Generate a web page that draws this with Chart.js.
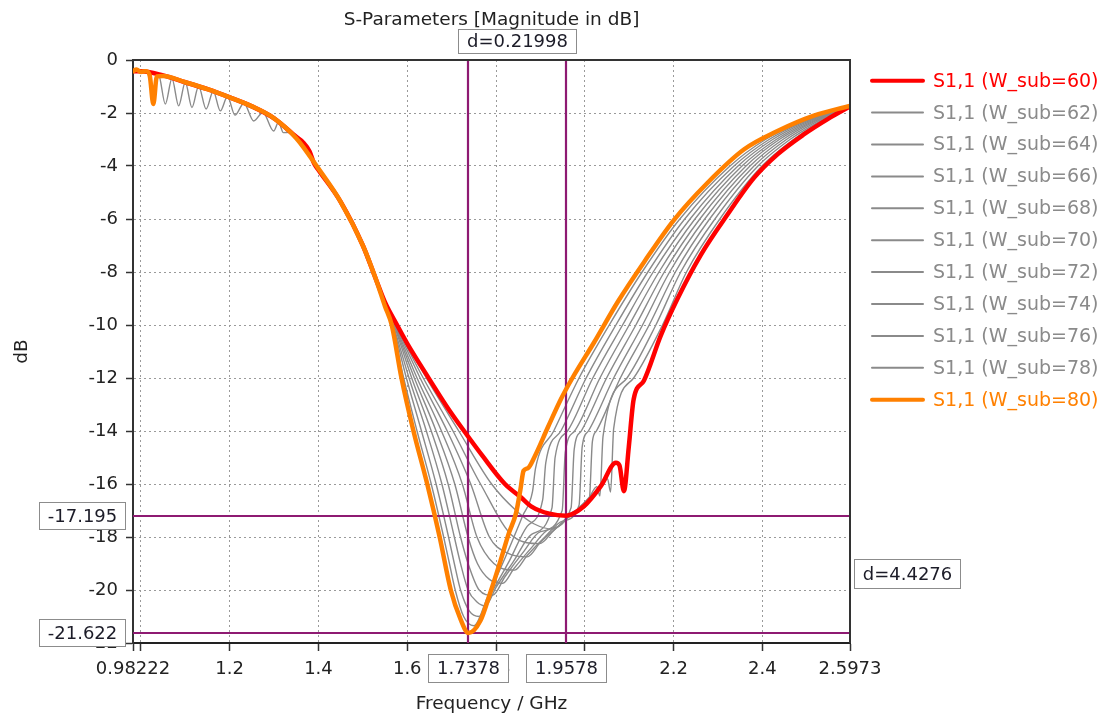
<!DOCTYPE html>
<html>
<head>
<meta charset="utf-8">
<script src="https://cdn.jsdelivr.net/npm/chart.js@4.4.1/dist/chart.umd.min.js"></script>
<style>
  html, body { margin: 0; padding: 0; background: #ffffff; }
  #wrap { width: 1106px; height: 717px; position: relative; }
</style>
</head>
<body>
<div id="wrap"><canvas id="c" width="1106" height="717"></canvas></div>
<script>
// ---------------- DATA ----------------
const titleText = 'S-Parameters [Magnitude in dB]';
const xAxisTitle = 'Frequency / GHz';
const yAxisTitle = 'dB';

const xTickValues = [0.98222, 1.0, 1.2, 1.4, 1.6, 1.8, 2.0, 2.2, 2.4, 2.5973];
const xTickLabels = ['0.98222', '', '1.2', '1.4', '1.6', '1.8', '2.0', '2.2', '2.4', '2.5973'];
const yTickValues = [0, -2, -4, -6, -8, -10, -12, -14, -16, -18, -20, -22];
const yTickLabels = ['0', '-2', '-4', '-6', '-8', '-10', '-12', '-14', '-16', '-18', '-20', '-22'];

const seriesLabels = ['S1,1 (W_sub=60)', 'S1,1 (W_sub=62)', 'S1,1 (W_sub=64)', 'S1,1 (W_sub=66)',
  'S1,1 (W_sub=68)', 'S1,1 (W_sub=70)', 'S1,1 (W_sub=72)', 'S1,1 (W_sub=74)',
  'S1,1 (W_sub=76)', 'S1,1 (W_sub=78)', 'S1,1 (W_sub=80)'];

// markers
const markerFreqs = [1.7378, 1.9578];
const markerFreqLabels = ['1.7378', '1.9578'];
const markerDBs = [-17.195, -21.622];
const markerDBLabels = ['-17.195', '-21.622'];
const deltaFreqLabel = 'd=0.21998';
const deltaDBLabel = 'd=4.4276';

// W_sub = 60 (red)
const redFreq = [0.98222, 1.0, 1.05, 1.1, 1.15, 1.2, 1.25, 1.3, 1.35, 1.365, 1.38, 1.39, 1.4, 1.45, 1.5, 1.53, 1.55,
  1.577, 1.6, 1.65, 1.69, 1.728, 1.77, 1.82, 1.856, 1.88, 1.92, 1.9578, 1.998, 2.036, 2.07, 2.078, 2.088,
  2.099, 2.11, 2.133, 2.171, 2.209, 2.261, 2.321, 2.381, 2.434, 2.494, 2.547, 2.5973];
const redDB = [-0.42, -0.42, -0.58, -0.84, -1.1, -1.41, -1.75, -2.2, -2.9, -3.1, -3.45, -3.9, -4.15, -5.35, -7.0, -8.3, -9.15,
  -10.0, -10.7, -12.05, -13.1, -14.0, -14.95, -16.0, -16.5, -16.85, -17.12, -17.195, -16.84, -16.08, -15.2, -15.3, -16.27,
  -14.6, -12.8, -12.1, -10.4, -9.0, -7.36, -5.84, -4.45, -3.56, -2.8, -2.23, -1.75];

// W_sub = 80 (orange)
const orangeFreq = [0.98222, 0.99, 1.0, 1.012, 1.02, 1.028, 1.036, 1.05, 1.1, 1.15, 1.2, 1.25, 1.3, 1.35, 1.4, 1.45,
  1.5, 1.53, 1.55, 1.565, 1.587, 1.614, 1.645, 1.673, 1.698, 1.72, 1.7378, 1.765, 1.787, 1.81, 1.828, 1.845,
  1.855, 1.862, 1.872, 1.886, 1.917, 1.946, 1.972, 2.021, 2.074, 2.134, 2.201, 2.276, 2.359, 2.434, 2.516, 2.5973];
const orangeDB = [-0.42, -0.36, -0.45, -0.42, -0.6, -1.66, -0.62, -0.6, -0.84, -1.1, -1.41, -1.75, -2.2, -2.95, -4.1, -5.35,
  -7.0, -8.3, -9.3, -10.0, -12.0, -14.0, -16.0, -18.0, -20.0, -21.1, -21.622, -21.15, -20.1, -18.9, -17.9, -17.1,
  -16.2, -15.5, -15.4, -15.0, -13.85, -12.8, -12.0, -10.65, -9.13, -7.61, -6.03, -4.64, -3.37, -2.68, -2.1, -1.73];

// shared upper part of the grey curves (they overlap there)
const topFreq = [0.98222, 1.0, 1.05, 1.1, 1.15, 1.2, 1.25, 1.3, 1.35, 1.4, 1.45, 1.5, 1.53];
const topDB = [-0.42, -0.42, -0.58, -0.84, -1.1, -1.41, -1.75, -2.2, -2.95, -4.1, -5.35, -7.0, -8.3];

// grey curve with the ripples at low frequency
const rippleFreq = [0.98222, 1.0, 1.04, 1.055, 1.07, 1.085, 1.1, 1.115, 1.13, 1.147, 1.163, 1.179, 1.195, 1.212,
  1.232, 1.254, 1.275, 1.299, 1.31, 1.321, 1.335, 1.35, 1.4, 1.45, 1.5, 1.53];
const rippleDB = [-0.42, -0.42, -0.55, -1.66, -0.7, -1.73, -0.84, -1.79, -0.99, -1.85, -1.18, -1.92, -1.38, -2.08,
  -1.63, -2.3, -1.98, -2.68, -2.35, -2.74, -2.73, -2.95, -4.1, -5.35, -7.0, -8.3];

// lower parts of the grey curves
const w62Freq = [1.55, 1.576, 1.643, 1.716, 1.79, 1.845, 1.885, 1.928, 1.96, 2.0, 2.04, 2.051, 2.058, 2.065, 2.11, 2.175, 2.229, 2.304, 2.399, 2.47, 2.525, 2.5973];
const w62DB = [-9.15, -10, -12, -14, -16, -17, -17.5, -17.7, -17.3, -16.7, -16.0, -15.8, -16.3, -13.9, -12, -10, -8, -6, -4, -3, -2.4, -1.75];
const w64Freq = [1.55, 1.574, 1.636, 1.703, 1.765, 1.84, 1.898, 1.93, 1.97, 2.01, 2.027, 2.034, 2.041, 2.095, 2.16, 2.216, 2.293, 2.39, 2.462, 2.52, 2.5973];
const w64DB = [-9.2, -10, -12, -14, -16, -18, -18.25, -17.75, -17.15, -16.5, -16.1, -16.45, -14.2, -12, -10, -8, -6, -4, -3, -2.4, -1.75];
const w66Freq = [1.55, 1.573, 1.629, 1.69, 1.743, 1.785, 1.825, 1.87, 1.90, 1.94, 1.98, 2.01, 2.017, 2.026, 2.08, 2.145, 2.204, 2.281, 2.381, 2.454, 2.514, 2.5973];
const w66DB = [-9.2, -10, -12, -14, -16, -18, -18.6, -18.75, -18.2, -17.6, -17.0, -16.6, -14.4, -14, -12, -10, -8, -6, -4, -3, -2.4, -1.75];
const w68Freq = [1.55, 1.572, 1.622, 1.677, 1.724, 1.757, 1.795, 1.842, 1.87, 1.91, 1.95, 1.987, 1.994, 2.008, 2.065, 2.13, 2.191, 2.27, 2.372, 2.446, 2.508, 2.5973];
const w68DB = [-9.2, -10, -12, -14, -16, -18, -19, -19.25, -18.7, -18.0, -17.4, -16.8, -14.6, -14, -12, -10, -8, -6, -4, -3, -2.4, -1.75];
const w70Freq = [1.55, 1.571, 1.616, 1.665, 1.707, 1.737, 1.758, 1.785, 1.815, 1.84, 1.88, 1.92, 1.969, 1.976, 1.992, 2.049, 2.115, 2.179, 2.259, 2.363, 2.438, 2.503, 2.5973];
const w70DB = [-9.2, -10, -12, -14, -16, -18, -19, -19.6, -19.75, -19.2, -18.4, -17.7, -16.9, -14.7, -14, -12, -10, -8, -6, -4, -3, -2.4, -1.75];
const w72Freq = [1.55, 1.57, 1.61, 1.654, 1.692, 1.72, 1.737, 1.762, 1.792, 1.82, 1.86, 1.90, 1.949, 1.956, 1.977, 2.034, 2.1, 2.167, 2.248, 2.354, 2.431, 2.497, 2.5973];
const w72DB = [-9.2, -10, -12, -14, -16, -18, -19, -20, -20.2, -19.5, -18.6, -17.8, -17.0, -14.8, -14, -12, -10, -8, -6, -4, -3, -2.4, -1.75];
const w74Freq = [1.55, 1.568, 1.604, 1.643, 1.678, 1.706, 1.72, 1.737, 1.757, 1.776, 1.80, 1.84, 1.88, 1.926, 1.933, 1.961, 2.018, 2.085, 2.154, 2.237, 2.345, 2.423, 2.491, 2.5973];
const w74DB = [-9.2, -10, -12, -14, -16, -18, -19, -20, -20.45, -20.6, -19.9, -18.9, -17.9, -16.9, -15.0, -14, -12, -10, -8, -6, -4, -3, -2.4, -1.75];
const w76Freq = [1.55, 1.567, 1.598, 1.632, 1.665, 1.693, 1.706, 1.72, 1.74, 1.762, 1.79, 1.83, 1.87, 1.905, 1.912, 1.946, 2.003, 2.07, 2.142, 2.225, 2.336, 2.415, 2.485, 2.5973];
const w76DB = [-9.25, -10, -12, -14, -16, -18, -19, -20, -20.8, -21.0, -20.1, -18.9, -17.6, -16.6, -15.2, -14, -12, -10, -8, -6, -4, -3, -2.4, -1.75];
const w78Freq = [1.55, 1.566, 1.592, 1.622, 1.654, 1.682, 1.695, 1.708, 1.727, 1.75, 1.78, 1.82, 1.86, 1.882, 1.889, 1.93, 1.987, 2.055, 2.129, 2.214, 2.327, 2.407, 2.48, 2.5973];
const w78DB = [-9.25, -10, -12, -14, -16, -18, -19, -20, -21, -21.35, -20.3, -18.8, -17.2, -16.3, -15.4, -14, -12, -10, -8, -6, -4, -3, -2.4, -1.75];

// ---------------- STYLE ----------------
const FONT = '"DejaVu Sans", "Liberation Sans", sans-serif';
const RED = '#ff0000';
const ORANGE = '#ff8000';
const GREY = '#8a8a8a';
const MARK = '#8e1a72';
const seriesColors = [RED, GREY, GREY, GREY, GREY, GREY, GREY, GREY, GREY, GREY, ORANGE];

function toPoints(fs, ds) {
  const n = Math.min(fs.length, ds.length);
  const out = [];
  for (let i = 0; i < n; i++) out.push({ x: fs[i], y: ds[i] });
  return out;
}

const greyParts = [
  [rippleFreq, rippleDB, w62Freq, w62DB],
  [topFreq, topDB, w64Freq, w64DB],
  [topFreq, topDB, w66Freq, w66DB],
  [topFreq, topDB, w68Freq, w68DB],
  [topFreq, topDB, w70Freq, w70DB],
  [topFreq, topDB, w72Freq, w72DB],
  [topFreq, topDB, w74Freq, w74DB],
  [topFreq, topDB, w76Freq, w76DB],
  [topFreq, topDB, w78Freq, w78DB]
];

const datasets = [];
datasets.push({ label: seriesLabels[0], data: toPoints(redFreq, redDB), borderColor: RED, borderWidth: 4.5, order: 1 });
greyParts.forEach((p, i) => {
  datasets.push({
    label: seriesLabels[i + 1],
    data: toPoints(p[0], p[1]).concat(toPoints(p[2], p[3])),
    borderColor: GREY, borderWidth: 1.4, order: 2
  });
});
datasets.push({ label: seriesLabels[10], data: toPoints(orangeFreq, orangeDB), borderColor: ORANGE, borderWidth: 4.5, order: 0 });

function drawBox(ctx, text, cx, cy, h) {
  ctx.font = '18px ' + FONT;
  const w = Math.round(ctx.measureText(text).width + 18);
  const x0 = Math.round(cx - w / 2), y0 = Math.round(cy - h / 2);
  ctx.fillStyle = '#ffffff';
  ctx.fillRect(x0, y0, w, h);
  ctx.strokeStyle = '#8c8c8c';
  ctx.lineWidth = 1;
  ctx.strokeRect(x0 + 0.5, y0 + 0.5, w - 1, h - 1);
  ctx.fillStyle = '#1c1c28';
  ctx.textAlign = 'center';
  ctx.textBaseline = 'middle';
  ctx.fillText(text, x0 + w / 2, y0 + h / 2 + 1);
  return w;
}

const overlay = {
  id: 'overlay',
  beforeDatasetDraw(chart, args) {
    if (args.index !== 0) return;
    const { ctx, chartArea: a, scales: { x, y } } = chart;
    ctx.save();
    ctx.strokeStyle = MARK;
    ctx.lineWidth = 2.2;
    markerFreqs.forEach(f => {
      const px = Math.round(x.getPixelForValue(f));
      ctx.beginPath(); ctx.moveTo(px, a.top); ctx.lineTo(px, a.bottom); ctx.stroke();
    });
    markerDBs.forEach(v => {
      const py = Math.round(y.getPixelForValue(v));
      ctx.beginPath(); ctx.moveTo(a.left, py); ctx.lineTo(a.right, py); ctx.stroke();
    });
    ctx.restore();
  },
  afterDraw(chart) {
    const { ctx, chartArea: a, scales: { x, y } } = chart;
    ctx.save();
    // frame (top + right)
    ctx.strokeStyle = '#333333';
    ctx.lineWidth = 2;
    ctx.beginPath();
    ctx.moveTo(a.left, a.top); ctx.lineTo(a.right, a.top); ctx.lineTo(a.right, a.bottom);
    ctx.stroke();

    // title
    ctx.fillStyle = '#222222';
    ctx.font = '18.5px ' + FONT;
    ctx.textAlign = 'center';
    ctx.textBaseline = 'alphabetic';
    ctx.fillText(titleText, (a.left + a.right) / 2, 25);

    // marker boxes
    const fx = markerFreqs.map(f => x.getPixelForValue(f));
    const dy = markerDBs.map(v => y.getPixelForValue(v));
    drawBox(ctx, deltaFreqLabel, (fx[0] + fx[1]) / 2, 41.5, 25);
    markerFreqLabels.forEach((t, i) => drawBox(ctx, t, fx[i], a.bottom + 25.5, 29));
    markerDBLabels.forEach((t, i) => {
      ctx.font = '18px ' + FONT;
      const w = ctx.measureText(t).width + 18;
      drawBox(ctx, t, a.left - 7 - w / 2, dy[i], 28);
    });
    ctx.font = '18px ' + FONT;
    const wd = ctx.measureText(deltaDBLabel).width + 18;
    drawBox(ctx, deltaDBLabel, a.right + 4 + wd / 2, (dy[0] + dy[1]) / 2, 30);

    // legend
    seriesLabels.forEach((lab, i) => {
      const yy = 80.7 + 31.9 * i;
      ctx.strokeStyle = seriesColors[i];
      ctx.lineWidth = (i === 0 || i === 10) ? 4 : 2;
      ctx.lineCap = 'round';
      ctx.beginPath(); ctx.moveTo(a.right + 22, yy); ctx.lineTo(a.right + 73, yy); ctx.stroke();
      ctx.fillStyle = seriesColors[i];
      ctx.font = '19px ' + FONT;
      ctx.textAlign = 'left';
      ctx.textBaseline = 'middle';
      ctx.fillText(lab, a.right + 83, yy + 1);
    });
    ctx.restore();
  }
};

Chart.defaults.font.family = FONT;
Chart.defaults.color = '#222222';

new Chart(document.getElementById('c'), {
  type: 'line',
  data: { datasets },
  plugins: [overlay],
  options: {
    responsive: false,
    animation: false,
    devicePixelRatio: 1,
    layout: { padding: { top: 60, right: 256, left: 0, bottom: 0 } },
    plugins: { legend: { display: false }, tooltip: { enabled: false }, title: { display: false } },
    elements: {
      point: { radius: 0, hoverRadius: 0 },
      line: { cubicInterpolationMode: 'monotone', borderJoinStyle: 'round', borderCapStyle: 'round', fill: false }
    },
    scales: {
      x: {
        type: 'linear', min: 0.98222, max: 2.5973,
        afterBuildTicks: s => { s.ticks = xTickValues.map(v => ({ value: v })); },
        afterFit: s => { s.height = 74; s.paddingLeft = 0; s.paddingRight = 0; },
        ticks: { autoSkip: false, maxRotation: 0, minRotation: 0, padding: 8, font: { size: 18 }, color: '#222222',
          callback: (v, i) => xTickLabels[i] },
        grid: {
          color: ctx => (ctx.index === 0 || ctx.index === xTickValues.length - 1) ? 'rgba(0,0,0,0)' : '#9a9a9a',
          lineWidth: 1, tickLength: 8, tickColor: '#333333', tickWidth: 1.5, tickBorderDash: []
        },
        border: { display: true, color: '#222222', width: 2, dash: [2, 3] },
        title: { display: true, text: xAxisTitle, font: { size: 18.5 }, color: '#222222', padding: { top: 0, bottom: 2 } }
      },
      y: {
        type: 'linear', min: -22, max: 0,
        afterBuildTicks: s => { s.ticks = yTickValues.map(v => ({ value: v })); },
        afterFit: s => { s.width = 133; s.paddingTop = 0; s.paddingBottom = 0; },
        ticks: { autoSkip: false, padding: 8, font: { size: 18 }, color: '#222222',
          callback: (v, i) => yTickLabels[i] },
        grid: {
          color: ctx => (ctx.index === 0 || ctx.index === yTickValues.length - 1) ? 'rgba(0,0,0,0)' : '#9a9a9a',
          lineWidth: 1, tickLength: 7, tickColor: '#333333', tickWidth: 1.5, tickBorderDash: []
        },
        border: { display: true, color: '#333333', width: 2, dash: [2, 3] },
        title: { display: true, text: yAxisTitle, font: { size: 18.5 }, color: '#222222', padding: { top: 11, bottom: 0 } }
      }
    }
  }
});
</script>
</body>
</html>
